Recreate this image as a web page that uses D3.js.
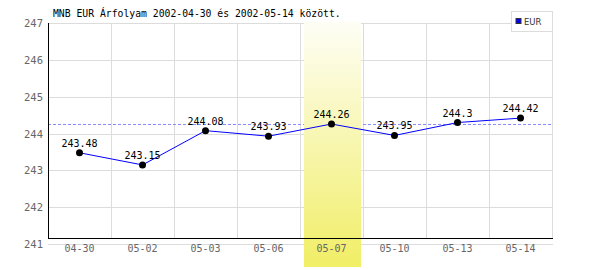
<!DOCTYPE html>
<html>
<head>
<meta charset="utf-8">
<script src="https://cdn.jsdelivr.net/npm/d3@7"></script>
<style>
  html, body { margin: 0; padding: 0; background: #fff; }
  svg { display: block; }
</style>
</head>
<body>
<div id="chart"></div>
<script>
// data
const dates = ["04-30", "05-02", "05-03", "05-06", "05-07", "05-10", "05-13", "05-14"];
const eurRates = [243.48, 243.15, 244.08, 243.93, 244.26, 243.95, 244.3, 244.42];
const yTicks = [241, 242, 243, 244, 245, 246, 247];
const highlightDate = "05-07";
const refRate = 244.26;
const titleText = "MNB EUR Árfolyam 2002-04-30 és 2002-05-14 között.";

const W = 600, H = 270;
const mono = "'DejaVu Sans Mono', monospace";

const svg = d3.select("#chart").append("svg")
  .attr("width", W)
  .attr("height", H);

const x = d3.scaleBand().domain(dates).range([48, 552]).padding(0);
const y = d3.scaleLinear().domain([241, 247]).range([244.2, 23]);

// gradient for the highlighted day
const defs = svg.append("defs");
const grad = defs.append("linearGradient")
  .attr("id", "hl")
  .attr("x1", 0).attr("y1", 0).attr("x2", 0).attr("y2", 1);
grad.append("stop").attr("offset", "0%").attr("stop-color", "#fefef6");
grad.append("stop").attr("offset", "100%").attr("stop-color", "#f1ee66");

// horizontal grid
svg.append("g").selectAll("line")
  .data(yTicks)
  .join("line")
  .attr("x1", 48).attr("x2", 553)
  .attr("y1", d => Math.round(y(d)) + 0.5)
  .attr("y2", d => Math.round(y(d)) + 0.5)
  .attr("stroke", "#dcdcdc");

// vertical grid at band edges
const edges = dates.map(d => x(d)).concat([x.range()[1]]).slice(1);
svg.append("g").selectAll("line")
  .data(edges)
  .join("line")
  .attr("x1", d => Math.round(d) + 0.5)
  .attr("x2", d => Math.round(d) + 0.5)
  .attr("y1", 23).attr("y2", 238)
  .attr("stroke", "#dcdcdc");

// dashed reference line
svg.append("line")
  .attr("x1", 48).attr("x2", 553)
  .attr("y1", Math.round(y(refRate)) + 0.5)
  .attr("y2", Math.round(y(refRate)) + 0.5)
  .attr("stroke", "#8c8cff")
  .attr("stroke-dasharray", "3,2");

// highlighted day band
svg.append("rect")
  .attr("x", x(highlightDate) + 4)
  .attr("y", 22)
  .attr("width", x.bandwidth() - 6)
  .attr("height", 245)
  .attr("fill", "url(#hl)");

// axes
svg.append("line")
  .attr("x1", 48.5).attr("x2", 48.5)
  .attr("y1", 23).attr("y2", 239)
  .attr("stroke", "#000");
svg.append("line")
  .attr("x1", 48).attr("x2", 553)
  .attr("y1", 238.5).attr("y2", 238.5)
  .attr("stroke", "#000");

// y tick labels
svg.append("g").selectAll("text")
  .data(yTicks)
  .join("text")
  .attr("x", 43)
  .attr("y", d => y(d) + 4)
  .attr("text-anchor", "end")
  .attr("font-family", mono)
  .attr("font-size", 10.5)
  .attr("fill", "#666")
  .text(d => d);

// x tick labels
svg.append("g").selectAll("text")
  .data(dates)
  .join("text")
  .attr("x", d => x(d) + x.bandwidth() / 2)
  .attr("y", 252)
  .attr("text-anchor", "middle")
  .attr("font-family", mono)
  .attr("font-size", 10)
  .attr("fill", "#666")
  .text(d => d);

// series line
const pts = dates.map((d, i) => [x(d) + x.bandwidth() / 2, y(eurRates[i])]);
svg.append("path")
  .attr("d", d3.line()(pts))
  .attr("fill", "none")
  .attr("stroke", "#0000ff")
  .attr("stroke-width", 1);

svg.append("g").selectAll("circle")
  .data(pts)
  .join("circle")
  .attr("cx", d => d[0])
  .attr("cy", d => d[1])
  .attr("r", 3.5)
  .attr("fill", "#000");

// value labels
svg.append("g").selectAll("text")
  .data(eurRates)
  .join("text")
  .attr("x", (d, i) => pts[i][0])
  .attr("y", (d, i) => pts[i][1] - 6)
  .attr("text-anchor", "middle")
  .attr("font-family", mono)
  .attr("font-size", 10)
  .attr("fill", "#000")
  .text(d => d);

// title
svg.append("text")
  .attr("x", 53)
  .attr("y", 17)
  .attr("font-family", mono)
  .attr("font-size", 9.75)
  .attr("fill", "#000")
  .text(titleText);

// legend
const lg = svg.append("g");
lg.append("rect")
  .attr("x", 511.5).attr("y", 11.5)
  .attr("width", 41).attr("height", 20)
  .attr("fill", "#fff")
  .attr("stroke", "#dcdcdc");
lg.append("rect")
  .attr("x", 516).attr("y", 18.5)
  .attr("width", 5).attr("height", 5)
  .attr("fill", "#0000ff")
  .attr("stroke", "#333")
  .attr("stroke-width", 1);
lg.append("text")
  .attr("x", 524)
  .attr("y", 25)
  .attr("font-family", "'DejaVu Sans', sans-serif")
  .attr("font-size", 8.5)
  .attr("fill", "#333")
  .text("EUR");
</script>
</body>
</html>
